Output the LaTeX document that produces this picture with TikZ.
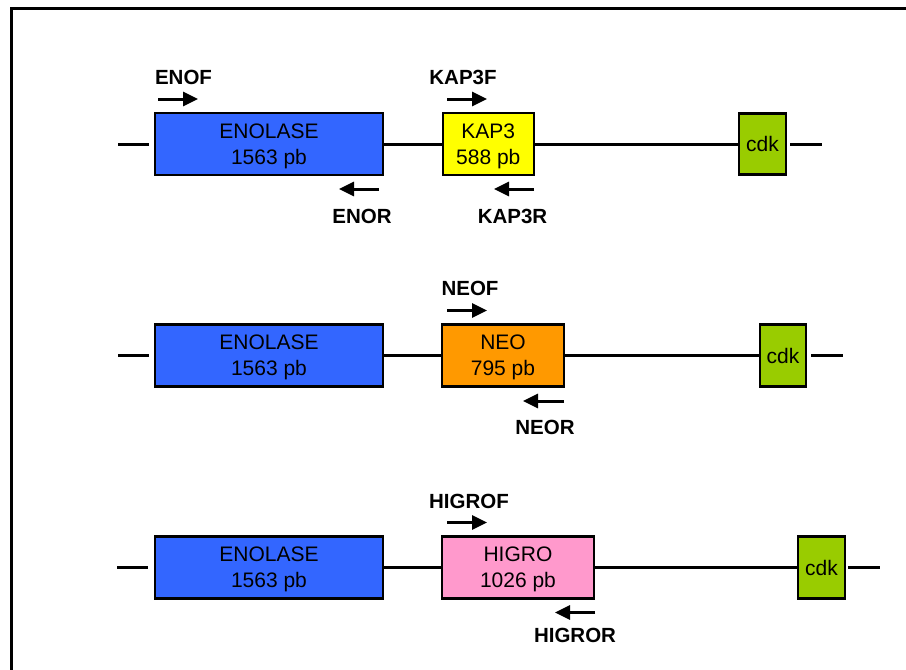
\documentclass[tikz,border=0pt]{standalone}
\usepackage{fontspec}
\setmainfont{Liberation Sans}
\usetikzlibrary{arrows.meta}
\definecolor{enoblue}{HTML}{3366FF}
\definecolor{kapyellow}{HTML}{FFFF00}
\definecolor{neoorange}{HTML}{FF9900}
\definecolor{higropink}{HTML}{FF99CC}
\definecolor{cdkgreen}{HTML}{99CC00}
\begin{document}
\begin{tikzpicture}[x=1pt,y=-1pt,
  gene/.style={draw=black, line width=2.5pt, inner sep=0pt, align=center,
    text depth=0pt, font=\fontsize{21}{26}\selectfont},
  backbone/.style={line width=3pt},
  primer/.style={line width=3pt, -{Triangle[length=15pt,width=14pt]}},
  plabel/.style={inner sep=0pt, font=\bfseries\fontsize{20.5}{24}\selectfont}]
\useasboundingbox (0,0) rectangle (906,670);
\draw[line width=3pt] (11.5,672) -- (11.5,8) -- (908,8);

% ---------- Row 1 ----------
\node[gene, fill=enoblue, minimum width=228pt, minimum height=62pt] (eno1) at (269,144) {ENOLASE\\1563 pb};
\node[gene, fill=kapyellow, minimum width=91pt, minimum height=62pt] (kap) at (488.3,144) {KAP3\\588 pb};
\node[gene, fill=cdkgreen, minimum width=47pt, minimum height=61pt] (cdk1) at (762.5,144) {cdk};
\coordinate (l1a) at (118,144); \coordinate (l1b) at (149,144);
\coordinate (r1a) at (790,144); \coordinate (r1b) at (822,144);
\draw[backbone] (l1a) -- (l1b);
\draw[backbone] (eno1.east) -- (kap.west);
\draw[backbone] (kap.east) -- (cdk1.west);
\draw[backbone] (r1a) -- (r1b);
\coordinate (enofs) at (158,99); \coordinate (enofe) at (198,99);
\draw[primer] (enofs) -- (enofe);
\node[plabel] (enof) at (183.5,77) {ENOF};
\coordinate (enors) at (379,189); \coordinate (enore) at (339,189);
\draw[primer] (enors) -- (enore);
\node[plabel] (enor) at (362,216) {ENOR};
\coordinate (kapfs) at (447,99); \coordinate (kapfe) at (487,99);
\draw[primer] (kapfs) -- (kapfe);
\node[plabel] (kapf) at (463,77) {KAP3F};
\coordinate (kaprs) at (534,189); \coordinate (kapre) at (494,189);
\draw[primer] (kaprs) -- (kapre);
\node[plabel] (kapr) at (512.5,216) {KAP3R};

% ---------- Row 2 ----------
\node[gene, fill=enoblue, minimum width=228pt, minimum height=62pt] (eno2) at (269,355.5) {ENOLASE\\1563 pb};
\node[gene, fill=neoorange, minimum width=122pt, minimum height=62pt] (neo) at (503,355.5) {NEO\\795 pb};
\node[gene, fill=cdkgreen, minimum width=46pt, minimum height=62pt] (cdk2) at (783,355.5) {cdk};
\coordinate (l2a) at (118,355.5); \coordinate (l2b) at (149,355.5);
\coordinate (r2a) at (811,355.5); \coordinate (r2b) at (843,355.5);
\draw[backbone] (l2a) -- (l2b);
\draw[backbone] (eno2.east) -- (neo.west);
\draw[backbone] (neo.east) -- (cdk2.west);
\draw[backbone] (r2a) -- (r2b);
\coordinate (neofs) at (447,310.5); \coordinate (neofe) at (487,310.5);
\draw[primer] (neofs) -- (neofe);
\node[plabel] (neof) at (470,288) {NEOF};
\coordinate (neors) at (564,401); \coordinate (neore) at (523,401);
\draw[primer] (neors) -- (neore);
\node[plabel] (neor) at (545,427) {NEOR};

% ---------- Row 3 ----------
\node[gene, fill=enoblue, minimum width=228pt, minimum height=62pt] (eno3) at (269,567.5) {ENOLASE\\1563 pb};
\node[gene, fill=higropink, minimum width=152pt, minimum height=62pt] (higro) at (518,567.5) {HIGRO\\1026 pb};
\node[gene, fill=cdkgreen, minimum width=47pt, minimum height=62pt] (cdk3) at (821.5,567.5) {cdk};
\coordinate (l3a) at (117,567.5); \coordinate (l3b) at (148,567.5);
\coordinate (r3a) at (848,567.5); \coordinate (r3b) at (880,567.5);
\draw[backbone] (l3a) -- (l3b);
\draw[backbone] (eno3.east) -- (higro.west);
\draw[backbone] (higro.east) -- (cdk3.west);
\draw[backbone] (r3a) -- (r3b);
\coordinate (higfs) at (447,522.5); \coordinate (higfe) at (487,522.5);
\draw[primer] (higfs) -- (higfe);
\node[plabel] (higf) at (469,501.5) {HIGROF};
\coordinate (higrs) at (595,612.5); \coordinate (higre) at (555,612.5);
\draw[primer] (higrs) -- (higre);
\node[plabel] (higr) at (575,635) {HIGROR};
\end{tikzpicture}
\end{document}
